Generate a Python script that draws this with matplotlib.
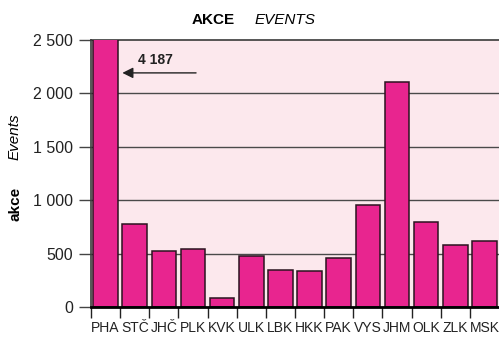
#----------------------------------------------------------------------------------------------------------------------
# Imports

import numpy as np
import matplotlib
matplotlib.use("Agg")
import matplotlib.pyplot as plt

#----------------------------------------------------------------------------------------------------------------------
# Data

regions = ["PHA", "STČ", "JHČ", "PLK", "KVK", "ULK", "LBK", "HKK", "PAK", "VYS", "JHM", "OLK", "ZLK", "MSK"]
events = [4187, 773, 525, 544, 82, 482, 351, 338, 463, 954, 2111, 792, 576, 619]
y_ticks = [0, 500, 1000, 1500, 2000, 2500]
y_tick_labels = ["0", "500", "1 000", "1 500", "2 000", "2 500"]

#----------------------------------------------------------------------------------------------------------------------
# Plot

plt.rcParams['font.family'] = ['Liberation Sans', 'DejaVu Sans']

fig = plt.figure(figsize=(4.99, 3.37), dpi=100)
ax = fig.add_axes([91 / 499, 1 - 307 / 337, 1 - 91 / 499, 267 / 337])
ax.set_facecolor("#fce8ed")

x = np.arange(len(regions)) + 0.5
ax.bar(x, events, width=0.84, color="#e8258f", edgecolor="#2a1420", linewidth=1.1, zorder=3)

ax.set_xlim(0, len(regions))
ax.set_ylim(0, 2500)

for v in y_ticks[1:-1]:
    ax.axhline(v, color="#4a4a4a", linewidth=1.0, zorder=1)

ax.set_yticks(y_ticks)
ax.set_yticklabels(y_tick_labels, fontsize=11.5, color="#222222")
ax.tick_params(axis="y", direction="out", length=9, width=1, color="#444444", pad=4)

ax.set_xticks(np.arange(len(regions)))
ax.set_xticklabels([])
ax.tick_params(axis="x", which="major", direction="out", length=8, width=1, color="#222222")
ax.set_xticks(x, minor=True)
ax.set_xticklabels(regions, minor=True, fontsize=10, color="#222222")
ax.tick_params(axis="x", which="minor", length=0, pad=10)

for side in ["top", "left"]:
    ax.spines[side].set_color("#3a3a3a")
    ax.spines[side].set_linewidth(1.2)
ax.spines["right"].set_visible(False)
ax.spines["bottom"].set_color("black")
ax.spines["bottom"].set_linewidth(2)
ax.spines["bottom"].set_zorder(5)

# arrow for the clipped PHA bar
ax.annotate("", xy=(0.98, 2192), xytext=(3.7, 2192),
            arrowprops=dict(arrowstyle="-|>", color="#222222", lw=1, mutation_scale=16), zorder=6)
ax.text(1.6, 2310, "4 187", fontsize=10, fontweight="bold", color="#222222", va="center")

fig.text(213 / 499, 1 - 20 / 337, "AKCE", fontsize=11, fontweight="bold", ha="center", va="center")
fig.text(255 / 499, 1 - 20 / 337, "EVENTS", fontsize=11, fontstyle="italic", ha="left", va="center")

fig.text(15 / 499, 1 - 204 / 337, "akce", fontsize=11, fontweight="bold", rotation=90, ha="center", va="center")
fig.text(15 / 499, 1 - 137 / 337, "Events", fontsize=11, fontstyle="italic", rotation=90, ha="center", va="center")

fig.savefig("out.png", dpi=100)

#----------------------------------------------------------------------------------------------------------------------
